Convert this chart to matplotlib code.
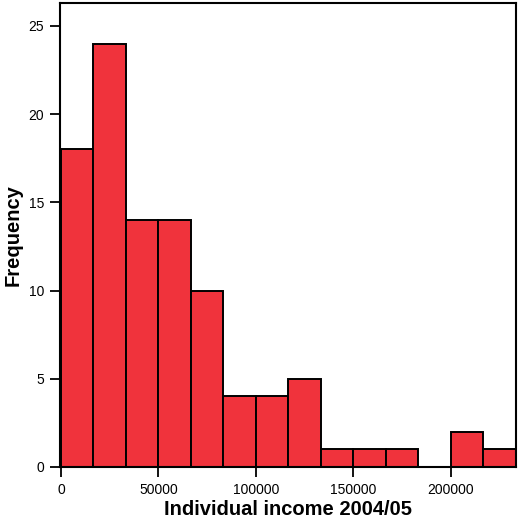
import matplotlib
matplotlib.use("Agg")
import matplotlib.pyplot as plt
import numpy as np

bin_width = 50000 / 3
counts = [18, 24, 14, 14, 10, 4, 4, 5, 1, 1, 1, 0, 2, 1]
xticks = [0, 50000, 100000, 150000, 200000]
yticks = [0, 5, 10, 15, 20, 25]
xlabel = "Individual income 2004/05"
ylabel = "Frequency"

plt.rcParams['font.family'] = ['Liberation Sans', 'DejaVu Sans']

fig = plt.figure(figsize=(5.18, 5.24), dpi=100)
ax = fig.add_axes([60/518, 57/524, 456/518, 464/524])

edges = np.arange(len(counts)) * bin_width
ax.bar(edges, counts, width=bin_width, align='edge', color='#F0333C',
       edgecolor='black', linewidth=1.4)

ax.set_xlim(-500, len(counts) * bin_width)
ax.set_ylim(0, 26.3)
ax.set_xticks(xticks)
ax.set_xticklabels([str(t) for t in xticks])
ax.set_yticks(yticks)
for s in ax.spines.values():
    s.set_linewidth(1.5)
ax.tick_params(direction='out', length=7.5, width=1.3, labelsize=10, pad=4)
ax.set_xlabel(xlabel, fontsize=14.5, fontweight='bold', labelpad=2)
ax.set_ylabel(ylabel, fontsize=14.5, fontweight='bold', labelpad=4)

fig.savefig("out.png", dpi=100)
